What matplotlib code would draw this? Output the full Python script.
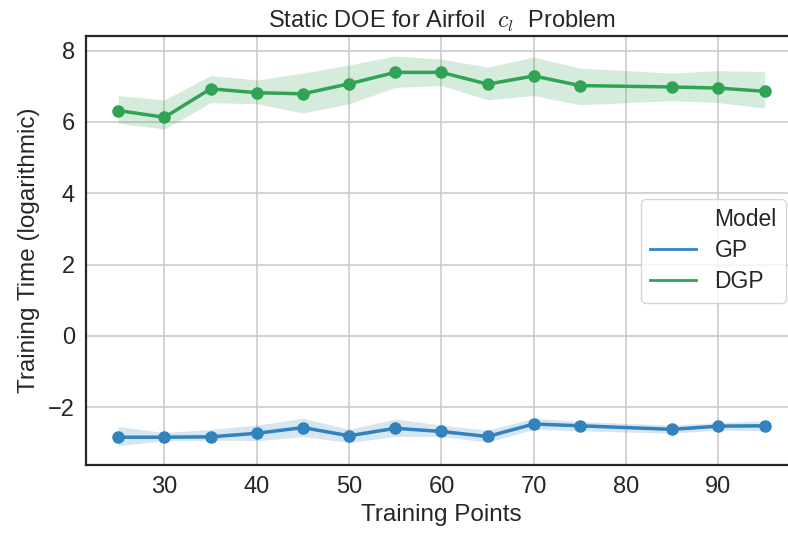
import numpy as np
import matplotlib
matplotlib.use('Agg')
import matplotlib.pyplot as plt
from matplotlib.lines import Line2D

# training points
points = [25, 30, 35, 40, 45, 50, 55, 60, 65, 70, 75, 85, 90, 95]

# GP training time (log) with band
gp_mean = [-2.84, -2.84, -2.83, -2.73, -2.57, -2.80, -2.59, -2.68, -2.82, -2.47, -2.52, -2.62, -2.53, -2.52]
gp_low = [-3.08, -2.94, -2.92, -2.94, -2.82, -2.99, -2.82, -2.82, -2.98, -2.62, -2.66, -2.73, -2.64, -2.66]
gp_high = [-2.54, -2.71, -2.62, -2.50, -2.31, -2.62, -2.33, -2.50, -2.64, -2.31, -2.40, -2.50, -2.43, -2.38]

# DGP training time (log) with band
dgp_mean = [6.32, 6.13, 6.93, 6.82, 6.79, 7.07, 7.39, 7.39, 7.06, 7.29, 7.02, 6.98, 6.95, 6.86]
dgp_low = [5.96, 5.80, 6.54, 6.51, 6.25, 6.51, 6.97, 7.02, 6.62, 6.74, 6.48, 6.60, 6.54, 6.39]
dgp_high = [6.74, 6.62, 7.30, 7.18, 7.37, 7.60, 7.85, 7.76, 7.54, 7.82, 7.51, 7.37, 7.44, 7.41]

plt.rcParams['font.family'] = ['Liberation Sans', 'DejaVu Sans']
plt.rcParams['mathtext.fontset'] = 'cm'
plt.rcParams['axes.unicode_minus'] = True

dark = '#262626'
blue = '#3182bd'
green = '#31a354'

fig = plt.figure(figsize=(7.88, 5.35), dpi=100)
ax = fig.add_axes([0.1091, 0.1308, 0.9023, 0.8019])

x = np.array(points)
ax.fill_between(x, gp_low, gp_high, color=blue, alpha=0.2, linewidth=0)
ax.plot(x, gp_mean, color=blue, lw=2.5, marker='o', ms=8)
ax.fill_between(x, dgp_low, dgp_high, color=green, alpha=0.2, linewidth=0)
ax.plot(x, dgp_mean, color=green, lw=2.5, marker='o', ms=8)

ax.set_xlim(21.5, 98.5)
ax.set_ylim(-3.62, 8.41)
ax.set_xticks([30, 40, 50, 60, 70, 80, 90])
ax.set_yticks([-2, 0, 2, 4, 6, 8])
ax.grid(True, color='#cccccc', lw=1.2)
ax.set_axisbelow(True)
for s in ax.spines.values():
    s.set_color(dark)
    s.set_linewidth(1.6)
ax.tick_params(length=0, pad=8, labelsize=17, colors=dark)

ax.set_xlabel('Training Points', fontsize=17.5, color=dark, labelpad=4)
ax.set_ylabel('Training Time (logarithmic)', fontsize=17.5, color=dark, labelpad=6)
ax.set_title('Static DOE for Airfoil  $c_l$  Problem', fontsize=17, color=dark, pad=6)

handles = [Line2D([], [], color='none'),
           Line2D([], [], color=blue, lw=2),
           Line2D([], [], color=green, lw=2)]
leg = ax.legend(handles, ['Model', 'GP', 'DGP'], loc='center right',
                bbox_to_anchor=(0.9845, 0.499), borderaxespad=0,
                fontsize=16.5, frameon=True, fancybox=True, handlelength=2.0,
                labelspacing=0.35, borderpad=0.4)
leg.get_frame().set_edgecolor('#cccccc')
for t in leg.get_texts():
    t.set_color(dark)

fig.savefig('out.png', dpi=100)
